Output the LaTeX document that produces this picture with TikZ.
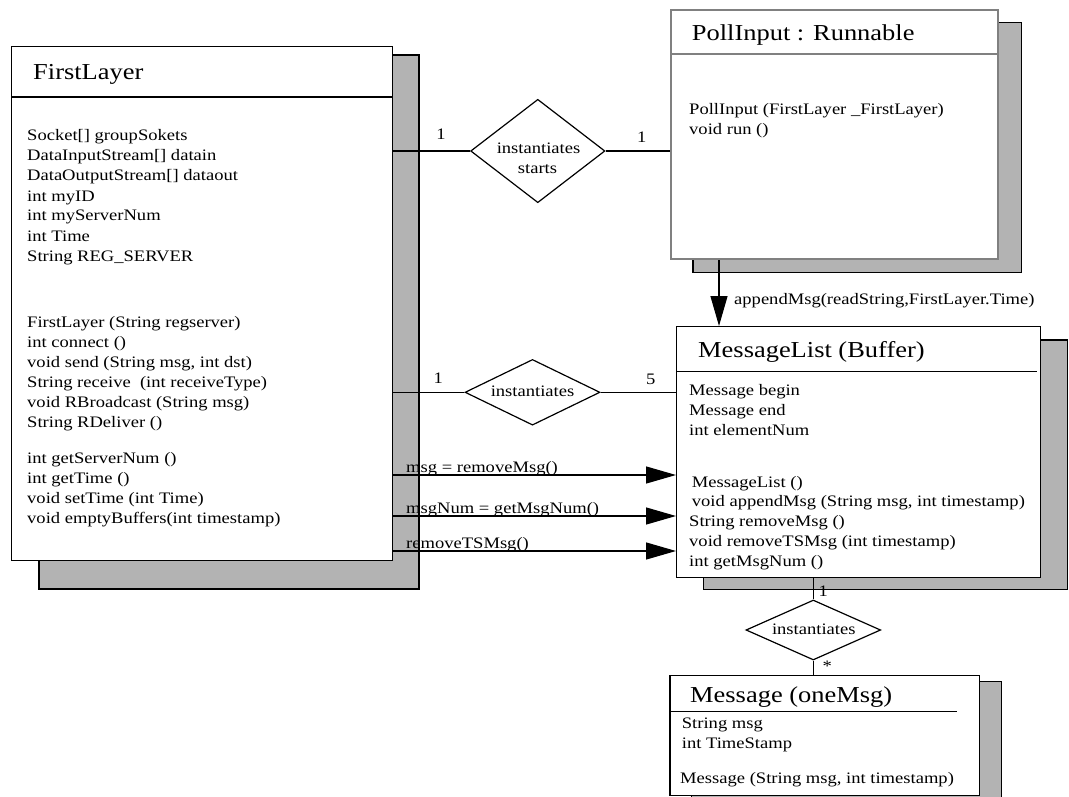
\documentclass[tikz,border=0pt]{standalone}
\usepackage{fontspec}
\setmainfont{Liberation Serif}[FakeStretch=1.16]
\usetikzlibrary{arrows.meta,shapes.geometric}
\definecolor{shade}{RGB}{179,179,179}
\definecolor{pgray}{RGB}{128,128,128}
\begin{document}
\begin{tikzpicture}[x=1pt,y=-1pt,
  shadowbox/.style={draw=black, fill=shade, line width=1.2pt},
  classbox/.style={draw=black, fill=white, line width=1.2pt, rectangle, inner sep=0pt, anchor=north west},
  pollbox/.style={classbox, draw=pgray, line width=2pt},
  rel/.style={diamond, draw=black, fill=white, line width=1.2pt, inner sep=0pt},
  conn/.style={line width=1.2pt},
  arr/.style={line width=1.2pt, -{Triangle[length=30pt,width=17pt]}},
  body/.style={inner sep=0pt, anchor=base west, font=\fontsize{16}{20}\selectfont},
  ttl/.style={inner sep=0pt, anchor=base west, font=\fontsize{22.8}{27}\selectfont},
  mid/.style={inner sep=0pt, anchor=base, font=\fontsize{16}{20}\selectfont},
]
\useasboundingbox (0,0) rectangle (1069,797);
\clip (0,0) rectangle (1069,797);

% shadows
\draw[shadowbox] (39,55) rectangle (419,589);
\draw[shadowbox] (693,22.7) rectangle (1021.7,272.7);
\draw[shadowbox] (703.3,340) rectangle (1067.3,589.3);
\draw[shadowbox] (691.7,681.7) rectangle (1001.7,810);

% class boxes
\node[classbox, minimum width=381, minimum height=514] (FL) at (11,46) {};
\node[pollbox, minimum width=327, minimum height=249] (PI) at (670,9) {};
\node[classbox, minimum width=364, minimum height=250.7] (ML) at (676,326) {};
\node[classbox, minimum width=309.7, minimum height=120] (MS) at (669.3,675) {};

% header separators
\coordinate (flsep) at (0,97);
\coordinate (pisep) at (0,54);
\coordinate (mlsep) at (1037,371.7);
\coordinate (mssep) at (956.7,711.7);
\draw[conn] (FL.west |- flsep) -- (FL.east |- flsep);
\draw[line width=2pt, draw=pgray] (PI.west |- pisep) -- (PI.east |- pisep);
\draw[conn] (ML.west |- mlsep) -- (mlsep);
\draw[conn] (MS.west |- mssep) -- (mssep);

% FirstLayer texts
\node[ttl] (flT) at (33,80) {FirstLayer};
\node[body] (fa1) at (27,141) {Socket[] groupSokets};
\node[body] (fa2) at (27,161) {DataInputStream[] datain};
\node[body] (fa3) at (27,181) {DataOutputStream[] dataout};
\node[body] (fa4) at (27,201) {int myID};
\node[body] (fa5) at (27,221) {int myServerNum};
\node[body] (fa6) at (27,241) {int Time};
\node[body] (fa7) at (27,261) {String REG\_SERVER};
\node[body] (fm1) at (27,327) {FirstLayer (String regserver)};
\node[body] (fm2) at (27,347) {int connect ()};
\node[body] (fm3) at (27,367) {void send (String msg, int dst)};
\node[body] (fm4) at (27,387) {String receive~ (int receiveType)};
\node[body] (fm5) at (27,407) {void RBroadcast (String msg)};
\node[body] (fm6) at (27,427) {String RDeliver ()};
\node[body] (fm7) at (27,463) {int getServerNum ()};
\node[body] (fm8) at (27,483) {int getTime ()};
\node[body] (fm9) at (27,503) {void setTime (int Time)};
\node[body] (fm10) at (27,523) {void emptyBuffers(int timestamp)};

% PollInput texts
\node[ttl] (piT) at (691.7,40.7) {PollInput : Runnable};
\node[body] (pm1) at (689,115) {PollInput (FirstLayer \_FirstLayer)};
\node[body] (pm2) at (689,135) {void run ()};

% MessageList texts
\node[ttl] (mlT) at (698,357) {MessageList (Buffer)};
\node[body] (ma1) at (689,395) {Message begin};
\node[body] (ma2) at (689,415) {Message end};
\node[body] (ma3) at (689,435) {int elementNum};
\node[body] (mm1) at (691.7,487) {MessageList ()};
\node[body] (mm2) at (691.7,506) {void appendMsg (String msg, int timestamp)};
\node[body] (mm3) at (689,526) {String removeMsg ()};
\node[body] (mm4) at (689,546) {void removeTSMsg (int timestamp)};
\node[body] (mm5) at (689,566) {int getMsgNum ()};

% Message texts
\node[ttl] (msT) at (690,702) {Message (oneMsg)};
\node[body] (sa1) at (681.7,728.3) {String msg};
\node[body] (sa2) at (681.7,748.3) {int TimeStamp};
\node[body] (sm1) at (680,783.3) {Message (String msg, int timestamp)};

% relationship diamonds
\node[rel, minimum width=134.3, minimum height=103.4] (D1) at (537.8,151) {};
\node[rel, minimum width=135, minimum height=65.7] (D2) at (532.5,392.3) {};
\node[rel, minimum width=134.7, minimum height=60] (D3) at (813.3,630) {};
\node[mid] (d1a) at (538.5,154) {instantiates};
\node[mid] (d1b) at (537.5,174) {starts};
\node[mid] (d2a) at (532.5,396.7) {instantiates};
\node[mid] (d3a) at (813.8,634) {instantiates};

% connectors
\draw[conn] (FL.east |- D1.west) -- (D1.west);
\draw[conn] (D1.east) -- (PI.west |- D1.east);
\draw[conn] (FL.east |- D2.west) -- (D2.west);
\draw[conn] (D2.east) -- (ML.west |- D2.east);
\draw[conn] (ML.south -| D3.north) -- (D3.north);
\draw[conn] (D3.south) -- (MS.north -| D3.south);

% multiplicities
\node[mid] (m1) at (441,139.5) {1};
\node[mid] (m2) at (641.7,142.5) {1};
\node[mid] (m3) at (438.3,383.3) {1};
\node[mid] (m4) at (650.7,384) {5};
\node[mid] (m5) at (823.3,596) {1};
\node[mid] (m6) at (827.3,671) {*};

% message arrows
\coordinate (r1) at (0,475);
\coordinate (r2) at (0,516);
\coordinate (r3) at (0,551);
\draw[arr] (FL.east |- r1) -- (ML.west |- r1);
\draw[arr] (FL.east |- r2) -- (ML.west |- r2);
\draw[arr] (FL.east |- r3) -- (ML.west |- r3);
\node[body] (l1) at (406,472.7) {msg = removeMsg()};
\node[body] (l2) at (406,513) {msgNum = getMsgNum()};
\node[body] (l3) at (406,548) {removeTSMsg()};

\coordinate (ax) at (719,0);
\draw[arr] (PI.south -| ax) -- (ML.north -| ax);
\node[body] (l4) at (734,304) {appendMsg(readString,FirstLayer.Time)};
\end{tikzpicture}
\end{document}
